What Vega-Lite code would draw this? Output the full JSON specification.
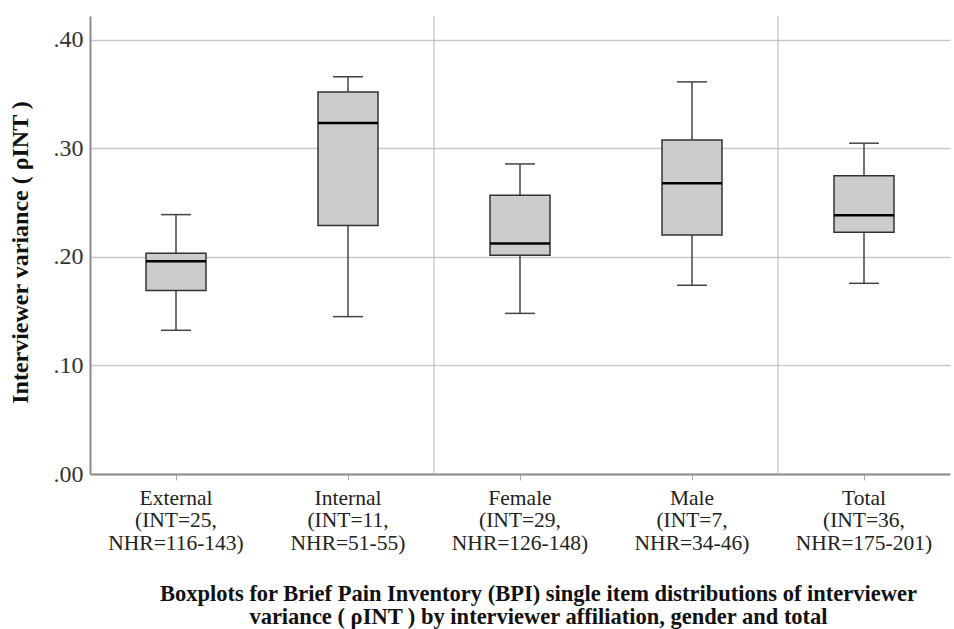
{
  "$schema": "https://vega.github.io/schema/vega-lite/v6.json",
  "width": 860,
  "height": 458,
  "autosize": {"type": "none"},
  "padding": {"left": 90, "top": 16, "right": 4, "bottom": 155},
  "background": "white",
  "config": {
    "view": {"stroke": null},
    "font": "Liberation Serif"
  },
  "datasets": {
    "stats": [
      {"group": "External|(INT=25,|NHR=116-143)", "lower": 0.1324, "q1": 0.169, "median": 0.196, "q3": 0.2034, "upper": 0.239},
      {"group": "Internal|(INT=11,|NHR=51-55)", "lower": 0.145, "q1": 0.229, "median": 0.3235, "q3": 0.352, "upper": 0.366},
      {"group": "Female|(INT=29,|NHR=126-148)", "lower": 0.148, "q1": 0.2016, "median": 0.2123, "q3": 0.2568, "upper": 0.2857},
      {"group": "Male|(INT=7,|NHR=34-46)", "lower": 0.1739, "q1": 0.2203, "median": 0.268, "q3": 0.3078, "upper": 0.3613},
      {"group": "Total|(INT=36,|NHR=175-201)", "lower": 0.1757, "q1": 0.2227, "median": 0.2384, "q3": 0.2747, "upper": 0.3048}
    ],
    "seps": [
      {"group": "Internal|(INT=11,|NHR=51-55)"},
      {"group": "Male|(INT=7,|NHR=34-46)"}
    ]
  },
  "encoding": {
    "x": {
      "field": "group",
      "type": "nominal",
      "sort": null,
      "scale": {
        "type": "band",
        "domain": ["External|(INT=25,|NHR=116-143)", "Internal|(INT=11,|NHR=51-55)", "Female|(INT=29,|NHR=126-148)", "Male|(INT=7,|NHR=34-46)", "Total|(INT=36,|NHR=175-201)"],
        "paddingInner": 0,
        "paddingOuter": 0
      },
      "axis": {
        "title": ["Boxplots for Brief Pain Inventory (BPI) single item distributions of interviewer", "variance ( ρINT ) by interviewer affiliation, gender and total"],
        "titleFont": "Liberation Serif",
        "titleFontWeight": "bold",
        "titleFontSize": 22.5,
        "titleColor": "#111",
        "titleLineHeight": 23,
        "titleBaseline": "top",
        "titleAlign": "center",
        "titleX": 448,
        "titleY": 108,
        "labelExpr": "split(datum.value, '|')",
        "labelAngle": 0,
        "labelFont": "Liberation Serif",
        "labelFontSize": 21.5,
        "labelColor": "#222",
        "labelLineHeight": 22.5,
        "labelBaseline": "top",
        "labelPadding": 7,
        "tickSize": 6,
        "tickColor": "#aaa",
        "tickWidth": 1,
        "domainColor": "#8c8c8c",
        "domainWidth": 2,
        "grid": false
      }
    }
  },
  "layer": [
    {
      "data": {"name": "seps"},
      "mark": {"type": "rule", "color": "#b4b4b4", "strokeWidth": 1},
      "encoding": {
        "x": {"field": "group", "type": "nominal", "bandPosition": 1}
      }
    },
    {
      "data": {"name": "stats"},
      "mark": {"type": "rule", "color": "#444", "strokeWidth": 1.5},
      "encoding": {
        "y": {
          "field": "lower",
          "type": "quantitative",
          "scale": {"domain": [0, 0.422], "nice": false, "zero": true},
          "axis": {
            "title": "Interviewer variance ( ρINT )",
            "titleFont": "Liberation Serif",
            "titleFontWeight": "bold",
            "titleFontSize": 24,
            "titleColor": "#111",
            "titleAngle": -90,
            "titleAlign": "center",
            "titleBaseline": "bottom",
            "titleX": -58,
            "titleY": 236,
            "values": [0, 0.1, 0.2, 0.3, 0.4],
            "labelExpr": "slice(format(datum.value, '.2f'), 1)",
            "labelFont": "Liberation Serif",
            "labelFontSize": 24,
            "labelColor": "#333",
            "labelPadding": 7,
            "ticks": false,
            "domainColor": "#8c8c8c",
            "domainWidth": 2,
            "grid": true,
            "gridColor": "#c8c8c8",
            "gridWidth": 1.5
          }
        },
        "y2": {"field": "upper"}
      }
    },
    {
      "data": {"name": "stats"},
      "mark": {"type": "bar", "size": 60, "fill": "#cccccc", "stroke": "#333", "strokeWidth": 1.5},
      "encoding": {
        "y": {"field": "q1", "type": "quantitative"},
        "y2": {"field": "q3"}
      }
    },
    {
      "data": {"name": "stats"},
      "mark": {"type": "tick", "size": 60, "thickness": 2.5, "color": "#000", "opacity": 1},
      "encoding": {
        "y": {"field": "median", "type": "quantitative"}
      }
    },
    {
      "data": {"name": "stats"},
      "mark": {"type": "tick", "size": 30, "thickness": 1.5, "color": "#444", "opacity": 1},
      "encoding": {
        "y": {"field": "upper", "type": "quantitative"}
      }
    },
    {
      "data": {"name": "stats"},
      "mark": {"type": "tick", "size": 30, "thickness": 1.5, "color": "#444", "opacity": 1},
      "encoding": {
        "y": {"field": "lower", "type": "quantitative"}
      }
    }
  ]
}
